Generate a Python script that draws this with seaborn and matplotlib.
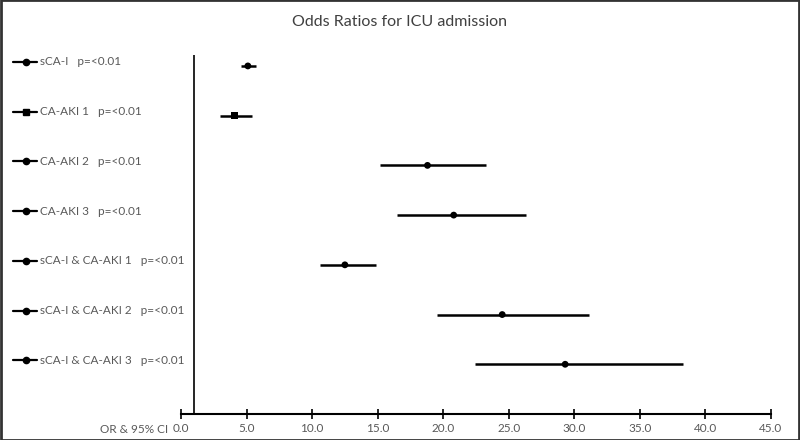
import pandas as pd
import matplotlib.pyplot as plt
import matplotlib.transforms as mtransforms
from matplotlib.patches import Rectangle
import seaborn as sns

# Forest plot data
groups = ['sCA-I', 'CA-AKI 1', 'CA-AKI 2', 'CA-AKI 3',
          'sCA-I & CA-AKI 1', 'sCA-I & CA-AKI 2', 'sCA-I & CA-AKI 3']
p_values = ['p=<0.01'] * 7
odds_ratio = [5.1, 4.1, 18.8, 20.8, 12.5, 24.5, 29.3]
ci_low = [4.6, 3.0, 15.2, 16.5, 10.6, 19.5, 22.4]
ci_high = [5.7, 5.4, 23.3, 26.3, 14.9, 31.1, 38.3]
marker_kind = ['circle', 'square', 'circle', 'circle', 'circle', 'circle', 'circle']
x_ticks = [0, 5, 10, 15, 20, 25, 30, 35, 40, 45]

df = pd.DataFrame({'group': groups, 'or': odds_ratio, 'lo': ci_low, 'hi': ci_high,
                   'kind': marker_kind, 'p': p_values})
df['row'] = range(len(df))

sns.set_style('white')
plt.rcParams['font.family'] = ['Lato', 'DejaVu Sans']
grey = '#595959'

fig = plt.figure(figsize=(8, 4.4), dpi=100)
ax = fig.add_axes([0.22625, 0.0591, 0.7375, 0.8159])

# confidence intervals
ax.hlines(df['row'], df['lo'], df['hi'], color='black', linewidth=1.8, zorder=2)
# point estimates
sns.scatterplot(data=df, x='or', y='row', style='kind',
                markers={'circle': 'o', 'square': 's'}, color='black',
                s=24, edgecolor='black', linewidth=0, legend=False, ax=ax, zorder=3)

# reference line at OR = 1
ax.axvline(1, color='black', linewidth=1.2, zorder=1)

ax.set_xlim(0, 45)
ax.set_ylim(7.0, -0.22)
ax.set_xticks(x_ticks)
ax.set_xticklabels([f'{t:.1f}' for t in x_ticks], color=grey, fontsize=8.5)
ax.set_yticks([])
ax.set_xlabel('')
ax.set_ylabel('')
ax.tick_params(axis='x', direction='inout', length=7, width=1.2, color='black', pad=3, bottom=True)

for side in ['top', 'right', 'left']:
    ax.spines[side].set_visible(False)
ax.spines['bottom'].set_color('black')
ax.spines['bottom'].set_linewidth(1.5)

# row labels with legend-like glyphs
trans = mtransforms.blended_transform_factory(fig.transFigure, ax.transData)
for _, r in df.iterrows():
    y = r['row'] - 0.08
    mk = 's' if r['kind'] == 'square' else 'o'
    ax.plot([13 / 800, 37 / 800], [y, y], color='black', linewidth=1.6,
            transform=trans, clip_on=False)
    ax.plot([26 / 800], [y], marker=mk, color='black', markersize=4.5,
            transform=trans, clip_on=False)
    ax.text(40 / 800, y, f"{r['group']}   {r['p']}", transform=trans,
            color=grey, fontsize=8.5, va='center', ha='left')

fig.text(168 / 800, 1 - 429 / 440, 'OR & 95% CI', color=grey, fontsize=8.5,
         ha='right', va='center')
fig.text(0.5, 1 - 22 / 440, 'Odds Ratios for ICU admission', color='#404040',
         fontsize=11.5, ha='center', va='center')

# frame around the whole figure
fig.patches.append(Rectangle((0.001, 0.001), 0.998, 0.998, transform=fig.transFigure,
                             fill=False, edgecolor='#333333', linewidth=2))

fig.savefig('out.png', dpi=100)
